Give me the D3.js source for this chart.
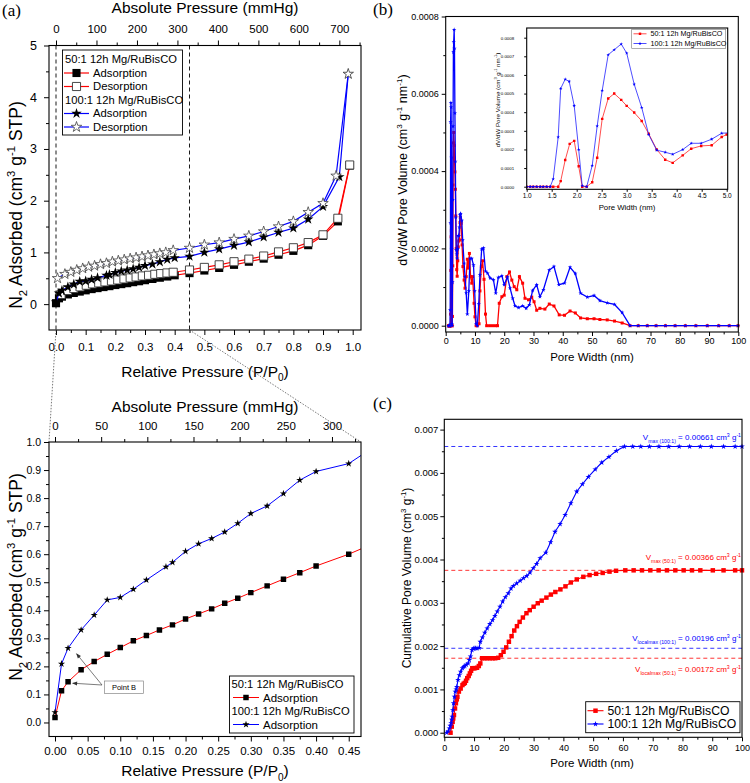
<!DOCTYPE html>
<html>
<head>
<meta charset="utf-8">
<script src="https://cdn.jsdelivr.net/npm/d3@7"></script>
<style>
  body { margin: 0; background: #fff; }
  svg { display: block; }
</style>
</head>
<body>
<script>
// ---------------- data ----------------
// (a) N2 isotherms: relative pressure P/P0 and adsorbed volume (cm3/g STP)
const P0_FULL = 733;   // mmHg for P/P0 = 1 on the top axis of (a)
const P0_ZOOM = 707;   // same, as drawn on the zoomed panel

const adsX50 = [0, 0.01, 0.02, 0.04, 0.06, 0.08, 0.10, 0.12, 0.14, 0.16, 0.18, 0.20, 0.22, 0.24, 0.26, 0.28, 0.30, 0.325, 0.35, 0.375, 0.40, 0.45, 0.50, 0.55, 0.60, 0.65, 0.70, 0.75, 0.80, 0.85, 0.90, 0.95, 0.99];
const adsY50 = [0.018, 0.113, 0.145, 0.188, 0.217, 0.243, 0.267, 0.291, 0.310, 0.330, 0.348, 0.369, 0.387, 0.405, 0.425, 0.443, 0.463, 0.487, 0.511, 0.534, 0.558, 0.600, 0.650, 0.700, 0.760, 0.820, 0.880, 0.955, 1.030, 1.140, 1.320, 1.600, 2.680];
const desX50 = [0.017, 0.039, 0.060, 0.081, 0.102, 0.123, 0.144, 0.165, 0.187, 0.208, 0.229, 0.250, 0.270, 0.291, 0.312, 0.333, 0.353, 0.374, 0.395, 0.45, 0.50, 0.55, 0.60, 0.65, 0.70, 0.75, 0.80, 0.85, 0.90, 0.95, 0.99];
const desY50 = [0.187, 0.263, 0.302, 0.334, 0.366, 0.392, 0.411, 0.430, 0.449, 0.468, 0.488, 0.507, 0.526, 0.545, 0.558, 0.577, 0.590, 0.603, 0.616, 0.660, 0.710, 0.760, 0.820, 0.870, 0.930, 1.010, 1.090, 1.190, 1.340, 1.660, 2.690];
const adsX100 = [0, 0.01, 0.02, 0.04, 0.06, 0.08, 0.10, 0.12, 0.14, 0.17, 0.18, 0.20, 0.22, 0.24, 0.26, 0.28, 0.30, 0.325, 0.35, 0.375, 0.40, 0.45, 0.50, 0.55, 0.60, 0.65, 0.70, 0.75, 0.80, 0.85, 0.90, 0.955, 0.985];
const adsY100 = [0.036, 0.209, 0.265, 0.330, 0.383, 0.437, 0.446, 0.475, 0.508, 0.555, 0.571, 0.610, 0.637, 0.656, 0.679, 0.710, 0.745, 0.772, 0.816, 0.864, 0.895, 0.923, 1.000, 1.065, 1.135, 1.200, 1.296, 1.385, 1.470, 1.640, 1.885, 2.460, 4.450];
const desX100 = [0.005, 0.03, 0.05, 0.07, 0.09, 0.11, 0.13, 0.15, 0.17, 0.19, 0.21, 0.23, 0.25, 0.27, 0.29, 0.31, 0.33, 0.35, 0.37, 0.395, 0.45, 0.50, 0.55, 0.60, 0.65, 0.70, 0.75, 0.80, 0.85, 0.90, 0.944, 0.985];
const desY100 = [0.50, 0.58, 0.62, 0.66, 0.69, 0.72, 0.74, 0.77, 0.79, 0.82, 0.84, 0.86, 0.88, 0.90, 0.92, 0.94, 0.96, 0.98, 1.00, 1.04, 1.085, 1.148, 1.19, 1.257, 1.32, 1.404, 1.50, 1.60, 1.777, 1.95, 2.48, 4.45];
// arrows of the "Point B" note, in data units of the zoomed panel
const pointB = [[0.033, 0.245], [0.027, 0.140]];

// (b) dV/dW pore volume vs pore width (nm)
const dvRed = [[1.0,0],[1.07,0],[1.13,0],[1.2,0],[1.27,0],[1.33,0],[1.4,0],[1.47,0],[1.53,0],[1.63,0],[1.68,0.00003],[1.77,0.000143],[1.86,0.00023],[1.95,0.000246],[2.04,0.00011],[2.11,0],[2.2,0],[2.31,0.000024],[2.41,0.000155],[2.51,0.000364],[2.63,0.000473],[2.75,0.0005],[2.89,0.000466],[3.0,0.000434],[3.15,0.000398],[3.3,0.000353],[3.44,0.000284],[3.6,0.0002],[3.77,0.000145],[3.92,0.000128],[4.12,0.000168],[4.29,0.000204],[4.49,0.000219],[4.7,0.000222],[4.9,0.000267],[5.0,0.00028],[5.3,0.000265],[5.6,0.000209],[5.9,0.000153],[6.3,0.000118],[6.6,0.000097],[7.0,0.000127],[7.4,0.000172],[7.7,0.000149],[8.1,0.000187],[8.5,0.000127],[8.9,0.00011],[9.2,0.000127],[9.7,0.000058],[10.0,0.000023],[10.4,0],[10.8,0],[11.4,0.000005],[11.7,0.00009],[12.2,0.000153],[12.6,0.000168],[13.1,0.00012],[13.6,0.00003],[14.0,0],[15.0,0],[16.0,0],[17.0,0],[17.7,0],[18.3,0.000058],[19.2,0.000075],[20.0,0.000079],[20.9,0.000127],[21.8,0.000139],[22.6,0.000118],[23.4,0.000101],[24.3,0.000093],[25.2,0.000127],[26.3,0.00011],[27.1,0.000071],[28.3,0.000067],[29.4,0.000074],[30.2,0.000062],[31.1,0.00004],[32.2,0.000045],[33.9,0.000043],[35.4,0.000056],[37.0,0.000051],[38.8,0.000028],[40.6,0.000027],[42.5,0.000038],[44.3,0.000033],[46.1,0.00002],[48.4,0.000018],[50.7,0.000018],[52.7,0.000016],[55.2,0.000015],[57.7,0.000012],[60.3,0.000007],[63.0,0],[65.8,0],[68.9,0],[71.9,0],[75.1,0],[78.4,0],[81.9,0],[85.5,0],[89.4,0],[93.3,0],[96.9,0],[99.9,0]];
const dvBlue = [[1.0,0],[1.07,0],[1.13,0],[1.2,0],[1.27,0],[1.33,0],[1.4,0],[1.47,0],[1.53,0.000041],[1.63,0.000266],[1.68,0.000527],[1.77,0.000577],[1.85,0.000565],[1.95,0.000435],[2.04,0.000199],[2.11,0.000005],[2.2,0],[2.31,0.000113],[2.41,0.000326],[2.51,0.000516],[2.63,0.000708],[2.75,0.000735],[2.89,0.000766],[3.0,0.000717],[3.15,0.00055],[3.3,0.000425],[3.44,0.00028],[3.6,0.000196],[3.77,0.000185],[3.92,0.000174],[4.12,0.000199],[4.29,0.000233],[4.49,0.000233],[4.7,0.000255],[4.9,0.000287],[5.1,0.00029],[5.5,0.000272],[5.8,0.000222],[6.3,0.000161],[6.6,0.000127],[7.0,0.000085],[7.4,0.00003],[7.9,0.00009],[8.3,0.000174],[8.9,0.000174],[9.5,0.000157],[9.9,0.00009],[10.4,0.000005],[10.8,0],[11.3,0.000057],[11.7,0.000131],[12.3,0.000198],[12.9,0.000201],[13.6,0.000141],[14.3,0.000136],[15.2,0.000123],[16.3,0.000119],[17.1,0.000084],[18.0,0.000125],[19.2,0.000129],[20.0,0.000106],[21.1,0.000126],[22.0,0.000097],[22.9,0.000071],[23.7,0.000051],[24.9,0.000047],[26.3,0.000051],[27.5,0.000045],[28.6,0.000054],[29.7,0.000091],[31.1,0.000106],[32.2,0.000075],[33.4,0.000093],[35.4,0.000144],[37.0,0.000153],[38.7,0.000106],[40.6,0.00011],[42.5,0.000151],[44.3,0.000135],[46.1,0.000084],[48.4,0.000074],[50.7,0.000078],[52.7,0.000065],[55.2,0.000059],[57.7,0.000055],[60.3,0.000034],[63.0,0],[65.8,0],[68.9,0],[71.9,0],[75.1,0],[78.4,0],[81.9,0],[85.5,0],[89.4,0],[93.3,0],[96.9,0],[99.9,0]];

// (c) cumulative pore volume vs pore width (nm)
const cumRed = [[2.1,0],[2.5,0.00014],[2.8,0.00025],[3.0,0.00033],[3.25,0.00041],[3.6,0.00056],[3.9,0.00068],[4.2,0.00077],[4.4,0.00083],[4.9,0.00095],[5.5,0.00102],[6.1,0.0011],[6.5,0.00113],[6.9,0.00115],[7.3,0.0012],[7.7,0.00126],[8.2,0.00131],[8.6,0.00137],[9.0,0.00143],[9.4,0.00149],[9.9,0.00149],[10.3,0.00149],[11.0,0.0015],[11.6,0.00154],[12.1,0.0016],[12.7,0.00172],[13.5,0.00172],[14.4,0.00172],[15.3,0.00172],[16.2,0.00172],[17.1,0.00172],[18.1,0.00173],[19.0,0.00179],[19.9,0.00187],[20.8,0.00197],[21.7,0.0021],[22.6,0.00223],[23.5,0.00236],[24.4,0.00246],[25.3,0.00256],[26.4,0.00266],[27.6,0.00276],[28.7,0.00283],[30.0,0.00291],[31.4,0.00299],[32.7,0.00305],[34.3,0.00312],[35.8,0.00319],[37.3,0.00325],[39.0,0.00331],[40.7,0.00338],[42.5,0.00347],[44.5,0.00354],[46.7,0.0036],[48.8,0.00364],[51.0,0.00367],[53.2,0.00369],[55.5,0.00372],[57.7,0.00374],[60.8,0.00375],[63.6,0.00375],[66.4,0.00375],[69.2,0.00375],[72.0,0.00375],[74.8,0.00375],[77.6,0.00375],[80.4,0.00375],[83.2,0.00375],[86.0,0.00375],[90.2,0.00375],[93.8,0.00375],[97.7,0.00375],[100,0.00375]];
const cumBlue = [[0.8,0],[1.3,0.00003],[1.7,0.0001],[2.0,0.00016],[2.3,0.00022],[2.5,0.0003],[2.65,0.00037],[2.87,0.00052],[3.1,0.00068],[3.4,0.00083],[3.7,0.00095],[4.0,0.001],[4.2,0.00106],[4.6,0.00122],[5.05,0.00133],[5.5,0.00141],[6.1,0.00149],[6.5,0.00152],[6.9,0.00154],[7.4,0.00157],[8.0,0.0016],[8.4,0.00168],[8.8,0.00176],[9.3,0.00191],[9.7,0.00194],[10.0,0.00195],[10.5,0.00195],[11.0,0.00195],[11.7,0.00196],[12.1,0.0021],[12.8,0.0022],[13.6,0.00231],[14.4,0.00241],[15.3,0.00251],[16.2,0.0026],[17.0,0.0027],[17.8,0.0028],[18.7,0.00291],[19.6,0.00303],[20.5,0.00313],[21.5,0.00322],[22.4,0.00333],[23.2,0.00339],[24.3,0.00345],[25.5,0.00351],[26.6,0.00357],[27.7,0.00362],[28.8,0.0037],[29.9,0.0038],[31.0,0.0039],[32.2,0.00403],[34.1,0.00416],[35.7,0.0044],[37.2,0.00464],[38.9,0.00482],[40.6,0.00503],[42.5,0.0053],[44.5,0.00557],[46.4,0.00574],[48.4,0.00591],[50.7,0.00608],[52.9,0.00624],[55.3,0.00637],[57.8,0.00651],[60.5,0.00661],[63.3,0.00661],[66.0,0.00661],[68.9,0.00661],[72.1,0.00661],[75.4,0.00661],[78.9,0.00661],[82.4,0.00661],[86.0,0.00661],[89.7,0.00661],[93.8,0.00661],[97.7,0.00661],[100,0.00661]];
// reference levels drawn as dashed lines, and the values quoted in their labels
const refLevels = [0.00661, 0.00375, 0.00195, 0.00172];
const refNames  = ['max (100:1)', 'max (50:1)', 'localmax (100:1)', 'localmax (50:1)'];
const refQuoted = ['0.00661', '0.00366', '0.00196', '0.00172'];
const refSeries = ['100', '50', '100', '50'];

const seriesNames = ['50:1 12h Mg/RuBisCO', '100:1 12h Mg/RuBisCO'];

// ---------------- helpers ----------------
const FONT = '"Liberation Sans", Arial, sans-serif';
const RED = '#ff0000', BLUE = '#0000ff';
const zip = (xs, ys) => xs.map((v, i) => [v, ys[i]]);

const svg = d3.select('body').append('svg')
    .attr('width', 750).attr('height', 783)
    .attr('font-family', FONT);
const defs = svg.append('defs');

// draws one axis: major ticks with labels, minor ticks without
function axis(g, orient, scale, at, major, minor, fmt, fs, pad, tick) {
    tick = tick || 5;
    const make = { left: d3.axisLeft, bottom: d3.axisBottom, top: d3.axisTop }[orient];
    const pos = orient === 'left' ? 'translate(' + at + ',0)' : 'translate(0,' + at + ')';
    if (minor && minor.length) {
        g.append('g').attr('transform', pos)
            .call(make(scale).tickValues(minor).tickSize(tick * 0.6).tickFormat(''))
            .call(s => s.select('.domain').remove());
    }
    const a = g.append('g').attr('transform', pos)
        .call(make(scale).tickValues(major).tickSize(tick).tickPadding(pad).tickFormat(fmt));
    a.select('.domain').remove();
    a.selectAll('text').attr('font-family', FONT).attr('font-size', fs).attr('fill', '#000');
    return a;
}

function frame(g, x, y) {
    const [x0, x1] = x.range(), [y0, y1] = y.range();
    g.append('rect')
        .attr('x', Math.min(x0, x1)).attr('y', Math.min(y0, y1))
        .attr('width', Math.abs(x1 - x0)).attr('height', Math.abs(y1 - y0))
        .attr('fill', 'none').attr('stroke', '#000').attr('stroke-width', 1.1);
}

function series(g, x, y, pts, o) {
    g.append('path').datum(pts)
        .attr('d', d3.line().x(d => x(d[0])).y(d => y(d[1])))
        .attr('fill', 'none').attr('stroke', o.color).attr('stroke-width', o.lw);
    g.selectAll(null).data(pts).enter().append('path')
        .attr('transform', d => 'translate(' + x(d[0]) + ',' + y(d[1]) + ')')
        .attr('d', d3.symbol(o.sym, o.size))
        .attr('fill', o.fill).attr('stroke', o.stroke || 'none').attr('stroke-width', o.sw || 0);
}

// text with sub/superscripts: parts = [[text, 'sub'|'sup'|null], ...]
function rich(t, parts, fs) {
    let cur = 0;
    parts.forEach(([s, k]) => {
        const target = k === 'sub' ? fs * 0.3 : k === 'sup' ? -fs * 0.4 : 0;
        t.append('tspan').attr('dy', target - cur).attr('font-size', k ? fs * 0.65 : fs).text(s);
        cur = target;
    });
    return t;
}

function label(g, x, y, parts, fs, anchor, rotate) {
    const t = g.append('text')
        .attr('transform', 'translate(' + x + ',' + y + ')' + (rotate ? ' rotate(-90)' : ''))
        .attr('text-anchor', anchor || 'middle').attr('font-size', fs).attr('fill', '#000');
    return rich(t, parts, fs);
}

function legendRow(g, x, y, o, text, fs, len) {
    g.append('line').attr('x1', x).attr('x2', x + len).attr('y1', y).attr('y2', y)
        .attr('stroke', o.color).attr('stroke-width', o.lw);
    g.append('path').attr('transform', 'translate(' + (x + len / 2) + ',' + y + ')')
        .attr('d', d3.symbol(o.sym, o.size)())
        .attr('fill', o.fill).attr('stroke', o.stroke || 'none').attr('stroke-width', o.sw || 0);
    g.append('text').attr('x', x + len + 4).attr('y', y).attr('dy', '0.35em')
        .attr('font-size', fs).text(text);
}

const N2title = [['N', null], ['2', 'sub'], [' Adsorbed (cm', null], ['3', 'sup'], [' g', null], ['-1', 'sup'], [' STP)', null]];
const relTitle = [['Relative Pressure (P/P', null], ['0', 'sub'], [')', null]];

// ---------------- (a) full isotherm ----------------
const ga = svg.append('g');
const xA = d3.scaleLinear().domain([-0.0236, 1.028]).range([49, 361]);
const yA = d3.scaleLinear().domain([-0.5, 5]).range([330, 45.5]);
const pA = d3.scaleLinear().domain(xA.domain().map(v => v * P0_FULL)).range(xA.range());

axis(ga, 'bottom', xA, 330, d3.range(0, 1.001, 0.1), d3.range(0.05, 1, 0.1), d3.format('.1f'), 11.5, 8);
axis(ga, 'top', pA, 45.5, d3.range(0, 701, 100), d3.range(50, 751, 100), d3.format('d'), 11.5, 8);
axis(ga, 'left', yA, 49, d3.range(0, 5.01, 1), d3.range(0.5, 5, 1), d3.format('d'), 12.5, 7);

[0, 0.45].forEach(v => {
    ga.append('line').attr('x1', xA(v)).attr('x2', xA(v))
        .attr('y1', yA.range()[1]).attr('y2', yA.range()[0])
        .attr('stroke', '#000').attr('stroke-width', 0.9).attr('stroke-dasharray', '4,3');
});

const sqA = { sym: d3.symbolSquare, size: 66, lw: 1.2 };
const stA = { sym: d3.symbolStar, size: 34, lw: 1.2 };
const adsRed = Object.assign({}, sqA, { color: RED, fill: '#000' });
const desRed = Object.assign({}, sqA, { color: RED, fill: '#fff', stroke: '#333', sw: 0.9 });
const adsBlue = Object.assign({}, stA, { color: BLUE, fill: '#000' });
const desBlue = Object.assign({}, stA, { color: BLUE, fill: '#fff', stroke: '#444', sw: 0.8 });

series(ga, xA, yA, zip(adsX50, adsY50), adsRed);
series(ga, xA, yA, zip(desX50, desY50), desRed);
series(ga, xA, yA, zip(adsX100, adsY100), adsBlue);
series(ga, xA, yA, zip(desX100, desY100), desBlue);
frame(ga, xA, yA);

// legend (a)
const lga = ga.append('g');
lga.append('rect').attr('x', 62.5).attr('y', 50).attr('width', 120).attr('height', 85)
    .attr('fill', '#fff').attr('stroke', '#000').attr('stroke-width', 0.9);
lga.append('text').attr('x', 65).attr('y', 59.5).attr('dy', '0.35em').attr('font-size', 11.2).text(seriesNames[0]);
legendRow(lga, 64, 73, adsRed, 'Adsorption', 11.3, 25);
legendRow(lga, 64, 86.5, desRed, 'Desorption', 11.3, 25);
lga.append('text').attr('x', 65).attr('y', 100).attr('dy', '0.35em').attr('font-size', 11.2).text(seriesNames[1]);
legendRow(lga, 64, 113.5, adsBlue, 'Adsorption', 11.3, 25);
legendRow(lga, 64, 127, desBlue, 'Desorption', 11.3, 25);

label(ga, 205, 13, [['Absolute Pressure (mmHg)', null]], 15.5);
label(ga, 205, 376.5, relTitle, 15.5);
label(ga, 22, 205, N2title, 17.5, 'middle', true);
svg.append('text').attr('x', 2).attr('y', 16).attr('font-family', '"Liberation Serif", serif')
    .attr('font-size', 17).text('(a)');

// ---------------- (a) zoom of the low-pressure part ----------------
const gz = svg.append('g');
const xZ = d3.scaleLinear().domain([-0.0092, 0.4688]).range([49, 361]);
const yZ = d3.scaleLinear().domain([-0.05, 1.0]).range([736.5, 442]);
const pZ = d3.scaleLinear().domain(xZ.domain().map(v => v * P0_ZOOM)).range(xZ.range());

// dotted guide lines from the P/P0 = 0..0.45 window of the top panel
[[xA(0), xZ.range()[0]], [xA(0.45), xZ.range()[1]]].forEach(([a, b]) => {
    svg.append('line').attr('x1', a).attr('y1', yA.range()[0]).attr('x2', b).attr('y2', yZ.range()[1])
        .attr('stroke', '#555').attr('stroke-width', 0.8).attr('stroke-dasharray', '1.5,1.5');
});

axis(gz, 'bottom', xZ, 736.5, d3.range(0, 0.451, 0.05), d3.range(0.025, 0.47, 0.05), d3.format('.2f'), 11.5, 5);
axis(gz, 'top', pZ, 442, d3.range(0, 301, 50), d3.range(25, 331, 50), d3.format('d'), 11.5, 7);
axis(gz, 'left', yZ, 49, d3.range(0, 1.001, 0.1), d3.range(0.05, 1, 0.1), d3.format('.1f'), 10.5, 3);

defs.append('clipPath').attr('id', 'clipZ').append('rect')
    .attr('x', 49).attr('y', 442).attr('width', 312).attr('height', 294.5);
const gzData = gz.append('g').attr('clip-path', 'url(#clipZ)');
const adsRedZ = { sym: d3.symbolSquare, size: 30, lw: 1, color: RED, fill: '#000' };
const adsBlueZ = { sym: d3.symbolStar, size: 16, lw: 1, color: BLUE, fill: '#000' };
series(gzData, xZ, yZ, zip(adsX50, adsY50).filter(d => d[0] <= 0.5), adsRedZ);
series(gzData, xZ, yZ, zip(adsX100, adsY100).filter(d => d[0] <= 0.5), adsBlueZ);
frame(gz, xZ, yZ);

// Point B note
defs.append('marker').attr('id', 'arr').attr('viewBox', '0 0 10 10')
    .attr('refX', 9).attr('refY', 5).attr('markerUnits', 'userSpaceOnUse')
    .attr('markerWidth', 6).attr('markerHeight', 5).attr('orient', 'auto')
    .append('path').attr('d', 'M0,1 L10,5 L0,9 z').attr('fill', '#333');
pointB.forEach(([px, py]) => {
    gz.append('line').attr('x1', 102).attr('y1', 685).attr('x2', xZ(px)).attr('y2', yZ(py))
        .attr('stroke', '#444').attr('stroke-width', 0.7).attr('marker-end', 'url(#arr)');
});
gz.append('rect').attr('x', 104.5).attr('y', 681).attr('width', 39).attr('height', 12.5)
    .attr('fill', '#fff').attr('stroke', '#888').attr('stroke-width', 0.7);
gz.append('text').attr('x', 124).attr('y', 687.5).attr('dy', '0.35em')
    .attr('text-anchor', 'middle').attr('font-size', 7.5).text('Point B');

const lgz = gz.append('g');
lgz.append('rect').attr('x', 229.5).attr('y', 676).attr('width', 124.5).attr('height', 57)
    .attr('fill', '#fff').attr('stroke', '#000').attr('stroke-width', 0.9);
lgz.append('text').attr('x', 231.5).attr('y', 684).attr('dy', '0.35em').attr('font-size', 11.2).text(seriesNames[0]);
legendRow(lgz, 233, 697.5, adsRedZ, 'Adsorption', 11.5, 26);
lgz.append('text').attr('x', 231.5).attr('y', 711).attr('dy', '0.35em').attr('font-size', 11.2).text(seriesNames[1]);
legendRow(lgz, 233, 724.5, adsBlueZ, 'Adsorption', 11.5, 26);

label(gz, 205, 411.5, [['Absolute Pressure (mmHg)', null]], 15.5);
label(gz, 205, 776, relTitle, 15.5);
label(gz, 22, 577, N2title, 17.5, 'middle', true);

// ---------------- (b) dV/dW ----------------
const gb = svg.append('g');
const xB = d3.scaleLinear().domain([0, 100]).range([445.7, 738.3]);
const yB = d3.scaleLinear().domain([-0.0000163, 0.0008]).range([332, 16.5]);
axis(gb, 'bottom', xB, 332, d3.range(0, 101, 10), d3.range(5, 100, 10), d3.format('d'), 9, 2, 4);
axis(gb, 'left', yB, 445.7, d3.range(0, 0.00081, 0.0002), d3.range(0.0001, 0.0008, 0.0002), d3.format('.4f'), 9, 3, 4);

const sqB = { sym: d3.symbolSquare, size: 9, lw: 1.3, color: RED, fill: RED };
const stB = { sym: d3.symbolStar, size: 6, lw: 1.3, color: BLUE, fill: BLUE };
series(gb, xB, yB, dvRed, sqB);
series(gb, xB, yB, dvBlue, stB);
frame(gb, xB, yB);

label(gb, 592, 361, [['Pore Width (nm)', null]], 11.5);
label(gb, 407, 170, [['dV/dW Pore Volume (cm', null], ['3', 'sup'], [' g', null], ['-1', 'sup'], [' nm', null], ['-1', 'sup'], [')', null]], 12.5, 'middle', true);
svg.append('text').attr('x', 373).attr('y', 15).attr('font-family', '"Liberation Serif", serif')
    .attr('font-size', 17).text('(b)');

// inset 1-5 nm
const gi = svg.append('g');
gi.append('rect').attr('x', 489).attr('y', 19).attr('width', 248).attr('height', 197).attr('fill', '#fff');
const xI = d3.scaleLinear().domain([1, 5.02]).range([526.7, 727.7]);
const yI = d3.scaleLinear().domain([-0.000014, 0.000852]).range([189.3, 28]);
axis(gi, 'bottom', xI, 189.3, d3.range(1, 5.01, 0.5), [], d3.format('.1f'), 6.5, 2, 2.5);
axis(gi, 'left', yI, 526.7, d3.range(0, 0.00081, 0.0001), [], d3.format('.4f'), 4.4, 10, 2.5);
defs.append('clipPath').attr('id', 'clipI').append('rect')
    .attr('x', 526.7).attr('y', 28).attr('width', 201).attr('height', 161.3);
const giData = gi.append('g').attr('clip-path', 'url(#clipI)');
const sqI = { sym: d3.symbolSquare, size: 6, lw: 0.7, color: RED, fill: RED };
const stI = { sym: d3.symbolStar, size: 4, lw: 0.7, color: BLUE, fill: BLUE };
series(giData, xI, yI, dvRed.filter(d => d[0] <= 5.6), sqI);
series(giData, xI, yI, dvBlue.filter(d => d[0] <= 5.6), stI);
frame(gi, xI, yI);
const lgi = gi.append('g');
lgi.append('rect').attr('x', 631.7).attr('y', 29.3).attr('width', 94).attr('height', 19)
    .attr('fill', '#fff').attr('stroke', '#777').attr('stroke-width', 0.6);
legendRow(lgi, 633.5, 33.8, sqI, seriesNames[0], 7.2, 13);
legendRow(lgi, 633.5, 43.5, stI, seriesNames[1], 7.2, 13);
label(gi, 627, 210, [['Pore Width (nm)', null]], 7.8);
label(gi, 499.5, 100, [['dV/dW Pore Volume (cm', null], ['3', 'sup'], [' g', null], ['-1', 'sup'], [' nm', null], ['-1', 'sup'], [')', null]], 6.2, 'middle', true);

// ---------------- (c) cumulative pore volume ----------------
const gc = svg.append('g');
const xC = d3.scaleLinear().domain([0, 100]).range([444.3, 742]);
const yC = d3.scaleLinear().domain([-0.000106, 0.007238]).range([737.3, 419.3]);
axis(gc, 'bottom', xC, 737.3, d3.range(0, 101, 10), d3.range(5, 100, 10), d3.format('d'), 9, 3, 4);
axis(gc, 'left', yC, 444.3, d3.range(0, 0.00701, 0.001), d3.range(0.0005, 0.0071, 0.001), d3.format('.3f'), 9.5, 2, 4);

const colorOf = { '50': RED, '100': BLUE };
refLevels.forEach((v, i) => {
    gc.append('line').attr('x1', xC.range()[0]).attr('x2', xC.range()[1])
        .attr('y1', yC(v)).attr('y2', yC(v))
        .attr('stroke', colorOf[refSeries[i]]).attr('stroke-width', 0.8).attr('stroke-dasharray', '4,3');
});

const sqC = { sym: d3.symbolSquare, size: 20, lw: 1.1, color: RED, fill: RED };
const stC = { sym: d3.symbolStar, size: 10, lw: 1.1, color: BLUE, fill: BLUE };
series(gc, xC, yC, cumRed, sqC);
series(gc, xC, yC, cumBlue, stC);
frame(gc, xC, yC);

// labels of the reference levels (offset above / below their line)
const refOffset = [-6, -10, -7, 14];
refLevels.forEach((v, i) => {
    const t = label(gc, 741, yC(v) + refOffset[i],
        [['V', null], [refNames[i], 'sub'], [' = ' + refQuoted[i] + ' cm', null], ['3', 'sup'], [' g', null], ['-1', 'sup']],
        8, 'end');
    t.attr('fill', colorOf[refSeries[i]]);
});

const lgc = gc.append('g');
lgc.append('rect').attr('x', 585.7).attr('y', 701.7).attr('width', 154.3).attr('height', 31)
    .attr('fill', '#fff').attr('stroke', '#000').attr('stroke-width', 0.9);
legendRow(lgc, 587.5, 710.7, sqC, seriesNames[0], 12.2, 16);
legendRow(lgc, 587.5, 724, stC, seriesNames[1], 12.2, 16);

label(gc, 592, 767, [['Pore Width (nm)', null]], 11.5);
label(gc, 411, 578, [['Cumulative Pore Volume (cm', null], ['3', 'sup'], [' g', null], ['-1', 'sup'], [')', null]], 12, 'middle', true);
svg.append('text').attr('x', 373).attr('y', 409).attr('font-family', '"Liberation Serif", serif')
    .attr('font-size', 17).text('(c)');
</script>
</body>
</html>
